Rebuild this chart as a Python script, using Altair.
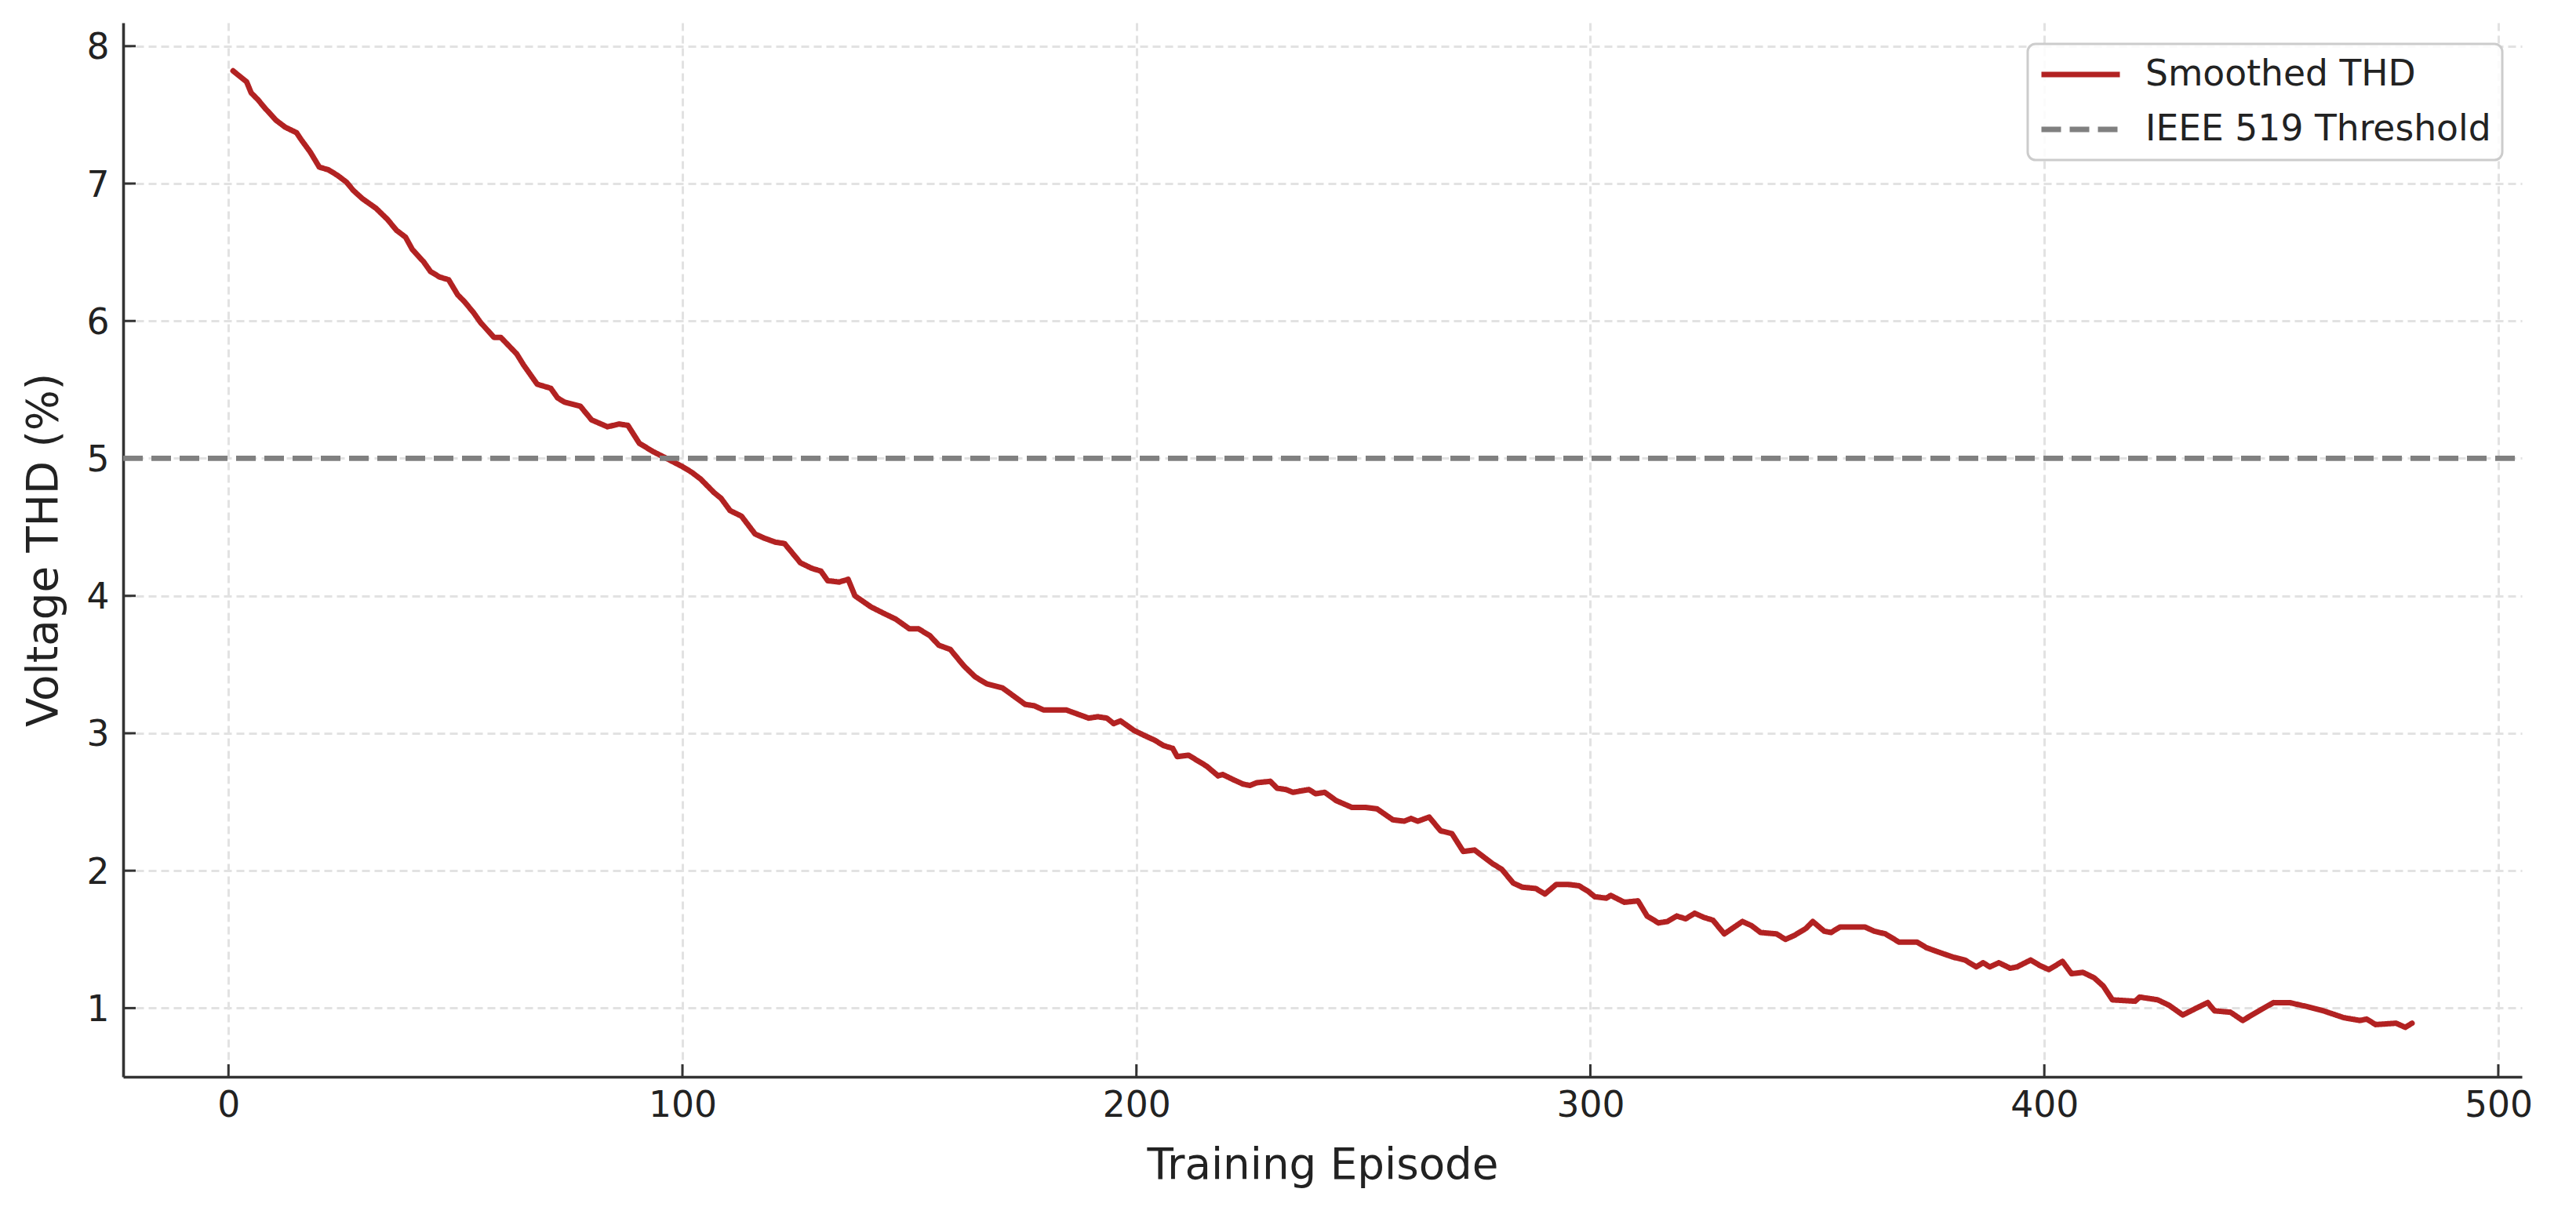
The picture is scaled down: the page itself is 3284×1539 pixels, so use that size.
import altair as alt
import pandas as pd

# ---- data ----
episodes = [
    1, 2.5, 4, 5, 6.5, 8, 10.5, 12.5, 15, 16, 18, 20, 22, 24, 26, 27.5, 29.5, 32.5, 35, 37,
    39, 40.5, 43, 44.5, 46.5, 48.5, 50.5, 52, 54, 55.5, 58.5, 60, 63.5, 65, 68, 71, 72.5, 74,
    77.5, 80, 83.5, 86, 88, 90.5, 93.5, 96.5,
    100, 102, 104, 107, 108.5, 110.5, 113, 116, 118, 120.5, 122.5, 126, 128.5, 130.5, 132,
    134.5, 136.5, 138, 141.5, 144.5, 147, 150, 152, 154.5, 156.5, 159, 162, 164.5, 167, 170.5,
    173, 175.5, 177.5, 179.5, 182, 184.5, 187, 189.5, 191.5, 193.5, 195, 196.5, 199.5,
    202, 204, 206, 208, 209, 211.5, 213.5, 215.5, 218, 219, 221.5, 223.5, 225, 226.5, 229.5,
    231, 233, 234.5, 238, 239.5, 241.5, 244, 247.5, 250.5, 253, 256.5, 259, 260.5, 262, 264.5,
    267, 269.5, 272, 274.5, 276.5, 278.5, 280.5, 283, 285, 288, 290, 292.5, 295, 297.5, 299.5,
    301, 303.5, 304.5, 307.5, 310.5, 312.5, 315, 317, 319, 321, 323, 325, 327, 329.5, 333.5,
    335.5, 337.5, 341, 343, 345, 347.5, 349, 351.5, 353, 355, 358, 360.5, 362.5, 365, 368, 372,
    374, 376.5, 380, 382.5, 385, 386.5, 388, 390, 392.5, 394, 397, 399,
    401, 404, 406, 408.5, 411, 413, 415, 420, 421, 425, 427.5, 430.5, 433.5, 436, 437.5, 441,
    443.7, 447.8, 450.5, 454, 458, 461.5, 466, 469.5, 471, 473, 477.5, 479.5, 481,
]
thd = [
    7.82, 7.78, 7.74, 7.66, 7.61, 7.55, 7.46, 7.41, 7.37, 7.32, 7.23, 7.12, 7.10, 7.06, 7.01,
    6.95, 6.89, 6.82, 6.74, 6.66, 6.61, 6.52, 6.43, 6.36, 6.32, 6.30, 6.19, 6.14, 6.06, 5.99,
    5.88, 5.88, 5.76, 5.68, 5.54, 5.51, 5.44, 5.41, 5.38, 5.28, 5.23, 5.25, 5.24, 5.11, 5.05,
    5.00,
    4.94, 4.90, 4.85, 4.75, 4.71, 4.62, 4.58, 4.45, 4.42, 4.39, 4.38, 4.24, 4.20, 4.18, 4.11,
    4.10, 4.12, 4.00, 3.92, 3.87, 3.83, 3.76, 3.76, 3.71, 3.64, 3.61, 3.49, 3.41, 3.36, 3.33,
    3.27, 3.21, 3.20, 3.17, 3.17, 3.17, 3.14, 3.11, 3.12, 3.11, 3.07, 3.09, 3.02,
    2.98, 2.95, 2.91, 2.89, 2.83, 2.84, 2.80, 2.76, 2.69, 2.70, 2.66, 2.63, 2.62, 2.64, 2.65,
    2.60, 2.59, 2.57, 2.59, 2.56, 2.57, 2.51, 2.46, 2.46, 2.45, 2.37, 2.36, 2.38, 2.36, 2.39,
    2.29, 2.27, 2.14, 2.15, 2.10, 2.05, 2.01, 1.91, 1.88, 1.87, 1.83, 1.90, 1.90, 1.89, 1.85,
    1.81, 1.80, 1.82, 1.77, 1.78, 1.67, 1.62, 1.63, 1.67, 1.65, 1.69, 1.66, 1.64, 1.54, 1.63,
    1.60, 1.55, 1.54, 1.50, 1.53, 1.58, 1.63, 1.56, 1.55, 1.59, 1.59, 1.59, 1.56, 1.54, 1.48,
    1.48, 1.44, 1.41, 1.37, 1.35, 1.30, 1.33, 1.30, 1.33, 1.29, 1.30, 1.35, 1.31,
    1.28, 1.34, 1.25, 1.26, 1.22, 1.16, 1.06, 1.05, 1.08, 1.06, 1.02, 0.95, 1.00, 1.04, 0.98,
    0.97, 0.91, 0.99, 1.04, 1.04, 1.01, 0.98, 0.93, 0.91, 0.92, 0.88, 0.89, 0.86, 0.89,
]
threshold = [5.0]
series_names = ["Smoothed THD", "IEEE 519 Threshold"]
series_colors = ["#b22222", "#808080"]
x_ticks = [0, 100, 200, 300, 400, 500]
y_ticks = [1, 2, 3, 4, 5, 6, 7, 8]

# ---- layout / style ----
W, H = 3058, 1344
FONT = "DejaVu Sans"
TXT = "#222222"

df = pd.DataFrame({"episode": episodes, "thd": thd, "series": series_names[0]})
thr = pd.DataFrame({"thd": threshold, "series": series_names[1]})
xt = pd.DataFrame({"episode": x_ticks})
yt = pd.DataFrame({"thd": y_ticks})

xscale = alt.Scale(domain=[-23.2, 505.2], nice=False, zero=False)
yscale = alt.Scale(domain=[0.50, 8.17], nice=False, zero=False)

x_axis = alt.Axis(values=x_ticks, title="Training Episode", labelPadding=14,
                  titleY=129, titleBaseline="alphabetic", labelFlush=False)
y_axis = alt.Axis(values=y_ticks, title="Voltage THD (%)", labelPadding=18,
                  titleX=-85, titleAngle=270, titleBaseline="alphabetic", labelOffset=2)

X = alt.X("episode:Q", scale=xscale, axis=x_axis)
Y = alt.Y("thd:Q", scale=yscale, axis=y_axis)

legend = alt.Legend(
    title=None, orient="none", legendX=2428, legendY=27,
    symbolType="stroke", symbolSize=10000, symbolStrokeWidth=7,
    labelFont=FONT, labelFontSize=45.6, labelColor=TXT, labelOffset=29, labelLimit=1000,
    padding=14, rowPadding=20, clipHeight=50, cornerRadius=10,
    fillColor="rgba(255,255,255,0.85)", strokeColor="#cccccc",
)
color = alt.Color("series:N", scale=alt.Scale(domain=series_names, range=series_colors),
                  legend=legend)
dash = alt.StrokeDash("series:N", scale=alt.Scale(domain=series_names, range=[[1, 0], [25, 11]]),
                      legend=legend)

line = alt.Chart(df).mark_line(strokeWidth=7, strokeJoin="round", strokeCap="round").encode(
    x=X, y=Y, color=color, strokeDash=dash
)
rule = alt.Chart(thr).mark_rule(strokeWidth=6.8).encode(
    y=Y, x=alt.value(0), x2=alt.value(W), color=color, strokeDash=dash
)
xtick = alt.Chart(xt).mark_rule(color="#333333", strokeWidth=3).encode(
    x=X, y=alt.value(H), y2=alt.value(H - 16)
)
ytick = alt.Chart(yt).mark_rule(color="#333333", strokeWidth=3).encode(
    y=Y, x=alt.value(0), x2=alt.value(16)
)

chart = (
    alt.layer(xtick, ytick, line, rule)
    .properties(
        width=W, height=H,
        padding={"left": 149, "top": 21, "right": 61, "bottom": 150},
        autosize=alt.AutoSizeParams(type="none"),
        background="white",
    )
    .configure_view(stroke=None)
    .configure_axis(
        domainColor="#333333", domainWidth=3.6, ticks=False, tickSize=0,
        labelFont=FONT, labelFontSize=45.6, labelColor=TXT, labelOverlap=False,
        titleFont=FONT, titleFontSize=54.7, titleColor=TXT, titleFontWeight="normal",
        grid=True, gridColor="#e2e2e2", gridDash=[10, 6], gridWidth=3,
    )
    .configure_legend(strokeWidth=3)
)

chart.save("out.html", embed_options={"renderer": "svg", "actions": False})
